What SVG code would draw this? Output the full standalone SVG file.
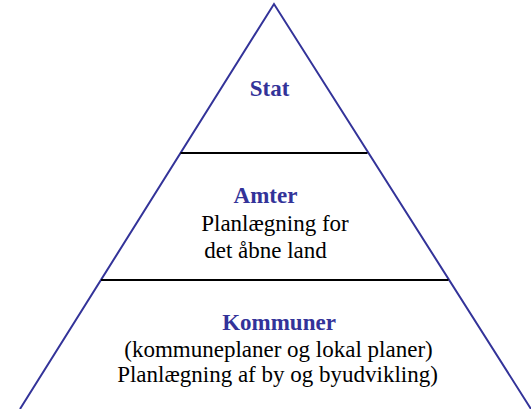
<svg xmlns="http://www.w3.org/2000/svg" width="531" height="409" viewBox="0 0 531 409">
<style>
.edge{fill:none;stroke:#333399;stroke-width:2}
.div{stroke:#000;stroke-width:2}
.h{font-weight:bold;fill:#333399}
.b{fill:#000}
</style>
<rect width="531" height="409" fill="#fff"/>
<g id="connectors">
<path class="edge" d="M20,409 L274,4 L531,409"/>
<line class="div" x1="180.5" y1="153" x2="367.5" y2="153"/>
<line class="div" x1="101" y1="280" x2="448.5" y2="280"/>
</g>
<g font-family="Liberation Serif, Times New Roman, serif" font-size="23" text-anchor="middle">
<g id="stat">
<text class="h" x="269.5" y="96">Stat</text>
</g>
<g id="amter">
<text class="h" x="265.5" y="202.5">Amter</text>
<text class="b" x="275" y="230.5">Planlægning for</text>
<text class="b" x="265.5" y="258">det åbne land</text>
</g>
<g id="kommuner">
<text class="h" x="279" y="330">Kommuner</text>
<text class="b" x="278.5" y="357">(kommuneplaner og lokal planer)</text>
<text class="b" x="277.5" y="382">Planlægning af by og byudvikling)</text>
</g>
</g>
</svg>
